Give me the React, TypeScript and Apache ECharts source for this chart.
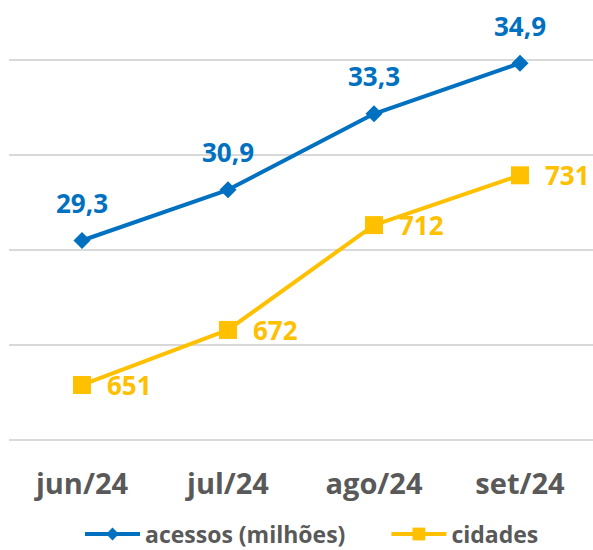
import React, { useEffect, useRef } from "react";
import * as echarts from "echarts";

const categories = ["jun/24", "jul/24", "ago/24", "set/24"];
const acessos = [29.3, 30.9, 33.3, 34.9];
const cidades = [651, 672, 712, 731];
const seriesNames = ["acessos (milhões)", "cidades"];

const FONT = "'Open Sans', sans-serif";
const BLUE = "#0070C0";
const YELLOW = "#FFC000";
const GRAY = "#595959";

export default function App() {
  const ref = useRef<HTMLDivElement>(null);
  useEffect(() => {
    if (!ref.current) return;
    const chart = echarts.init(ref.current, undefined, { renderer: "svg" });
    chart.setOption({
      animation: false,
      textStyle: { fontFamily: FONT },
      grid: { left: 9, right: 0, top: 60, bottom: 110, containLabel: false },
      legend: {
        top: 522,
        left: 83,
        padding: 0,
        itemWidth: 55,
        itemHeight: 16,
        itemGap: 44,
        lineStyle: { width: 4 },
        textStyle: { fontFamily: FONT, fontSize: 23, lineHeight: 24, fontWeight: "bold", color: GRAY },
        data: seriesNames,
      },
      xAxis: {
        type: "category",
        data: categories,
        axisLine: { show: false },
        axisTick: { show: false },
        axisLabel: { fontFamily: FONT, fontSize: 29, fontWeight: "bold", color: GRAY, margin: 28 },
      },
      yAxis: [
        {
          type: "value",
          min: 23,
          max: 35,
          interval: 3,
          axisLabel: { show: false },
          axisLine: { show: false },
          axisTick: { show: false },
          splitLine: { lineStyle: { color: "#d9d9d9", width: 2 } },
        },
        {
          type: "value",
          min: 630,
          max: 775,
          show: false,
          splitLine: { show: false },
        },
      ],
      series: [
        {
          name: seriesNames[0],
          type: "line",
          yAxisIndex: 0,
          data: acessos,
          symbol: "diamond",
          symbolSize: 17,
          lineStyle: { color: BLUE, width: 4 },
          itemStyle: { color: BLUE },
          label: {
            show: true,
            position: "top",
            distance: 16,
            fontFamily: FONT,
            fontSize: 26,
            fontWeight: "bold",
            color: BLUE,
            formatter: (p: any) => String(p.value).replace(".", ","),
          },
        },
        {
          name: seriesNames[1],
          type: "line",
          yAxisIndex: 1,
          data: cidades,
          symbol: "rect",
          symbolSize: 18,
          lineStyle: { color: YELLOW, width: 4 },
          itemStyle: { color: YELLOW },
          label: {
            show: true,
            position: "right",
            distance: 16,
            fontFamily: FONT,
            fontSize: 26,
            fontWeight: "bold",
            color: YELLOW,
          },
        },
      ],
    });
    return () => chart.dispose();
  }, []);
  return <div ref={ref} style={{ width: 593, height: 550, position: "absolute", left: 0, top: 0 }} />;
}
